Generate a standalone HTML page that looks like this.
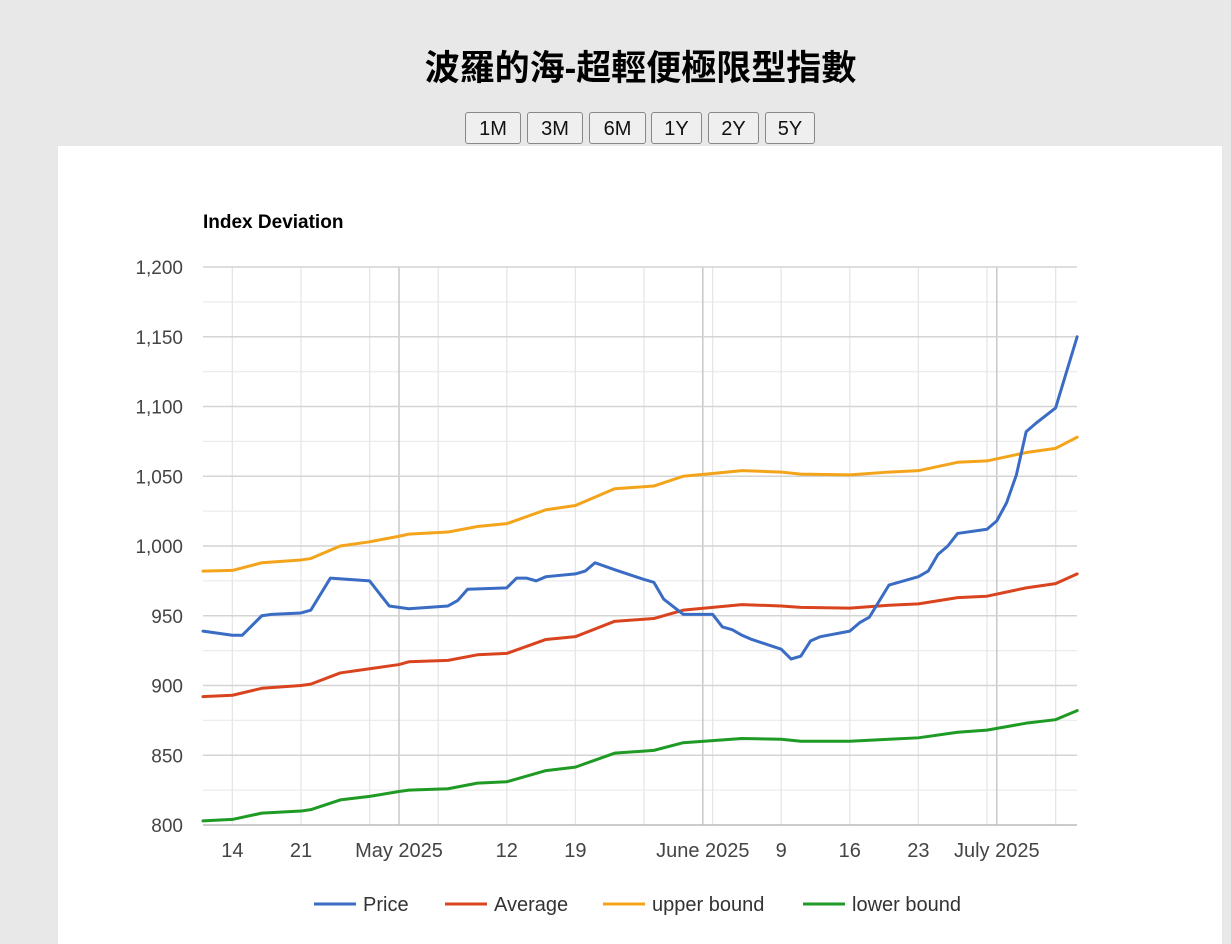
<!DOCTYPE html>
<html><head><meta charset="utf-8"><style>
body{margin:0;width:1231px;height:944px;background:#e8e8e8;overflow:hidden;font-family:"Liberation Sans","Noto Sans CJK TC",sans-serif;position:relative}
#title{position:absolute;left:25px;width:1231px;top:40px;text-align:center;font-size:35px;font-weight:bold;color:#000;font-family:"Liberation Sans","Noto Sans CJK TC",sans-serif}
.btn{position:absolute;top:112px;height:32px;border:1px solid #888;border-radius:3px;background:#efefef;font-size:20px;color:#111;text-align:center;line-height:32px;box-sizing:border-box}
#card{position:absolute;left:58px;top:146px;width:1164px;height:798px;background:#fff}
svg{position:absolute;left:0;top:0}
</style></head><body>
<div id="title">波羅的海-超輕便極限型指數</div>
<div class="btn" style="left:465px;width:56px">1M</div>
<div class="btn" style="left:527px;width:56px">3M</div>
<div class="btn" style="left:589px;width:57px">6M</div>
<div class="btn" style="left:651px;width:51px">1Y</div>
<div class="btn" style="left:708px;width:51px">2Y</div>
<div class="btn" style="left:765px;width:50px">5Y</div>
<div id="card"></div>
<svg id="chart" width="1231" height="944"></svg>
<script>
const yTicks=[800,850,900,950,1000,1050,1100,1150,1200];
const xLabelDays=[3,10,20,31,38,51,59,66,73,81];
const xLabelText=["14","21","May 2025","12","19","June 2025","9","16","23","July 2025"];
const mondayDays=[3,10,17,24,31,38,45,52,59,66,73,80,87];
const monthDays=[20,51,81];
const priceDays=[0,3,4,6,7,10,11,13,17,19,20,21,25,26,27,31,32,33,34,35,38,39,40,42,45,46,47,49,52,53,54,55,56,59,60,61,62,63,66,67,68,70,73,74,75,76,77,80,81,82,83,84,85,87,89.2];
const priceVals=[939,936,936,950,951,952,954,977,975,957,956,955,957,961,969,970,977,977,975,978,980,982,988,983,976,974,962,951,951,942,940,936,933,926,919,921,932,935,939,945,949,972,978,982,994,1000,1009,1012,1018,1031,1051,1082,1088,1099,1150];
const bandDays=[0,3,6,10,11,14,17,20,21,25,28,31,35,38,42,46,49,52,55,59,61,66,70,73,77,80,84,87,89.2];
const upperVals=[982,982.5,988,990,991,1000,1003,1007,1008.5,1010,1014,1016,1026,1029,1041,1043,1050,1052,1054,1053,1051.5,1051,1053,1054,1060,1061,1067,1070,1078];
const averageVals=[892,893,898,900,901,909,912,915,917,918,922,923,933,935,946,948,954,956,958,957,956,955.5,957.5,958.5,963,964,970,973,980];
const lowerVals=[803,804,808.5,810,811,818,820.5,824,825,826,830,831,839,841.5,851.5,853.5,859,860.5,862,861.5,860,860,861.5,862.5,866.5,868,873,875.5,882];

const NS="http://www.w3.org/2000/svg";
const svg=document.getElementById('chart');
const X0=203,X1=1077,Y0=825,Y1=267;
const xs=d=>X0+d*9.8;
const ys=v=>Y0-(v-800)*(Y0-Y1)/400;
function mk(tag,attrs,parent){const e=document.createElementNS(NS,tag);for(const k in attrs)e.setAttribute(k,attrs[k]);(parent||svg).appendChild(e);return e;}

for(let v=825;v<1200;v+=50){
  const l=mk('line',{x1:X0,x2:X1,y1:ys(v),y2:ys(v),stroke:'#ececec','stroke-width':1.3});
  
  
}
mondayDays.forEach(d=>{
  const l=mk('line',{x1:xs(d),x2:xs(d),y1:Y1,y2:Y0,stroke:'#e6e6e6','stroke-width':1.3});
  
  
});
monthDays.forEach(d=>{
  const l=mk('line',{x1:xs(d),x2:xs(d),y1:Y1,y2:Y0,stroke:'#c8c8c8','stroke-width':1.5});
  
  
});
yTicks.forEach(v=>{
  const l=mk('line',{x1:X0,x2:X1,y1:ys(v),y2:ys(v),stroke:v===800?'#bbb':'#d4d4d4','stroke-width':1.5});
  
  
  const t=mk('text',{x:183,y:ys(v)+7,'text-anchor':'end','font-size':19,fill:'#444','font-family':'Liberation Sans, sans-serif'});
  t.textContent=v.toLocaleString('en-US');
  
  
});
xLabelDays.forEach((d,i)=>{
  const t=mk('text',{x:xs(d),y:857,'text-anchor':'middle','font-size':20,fill:'#444','font-family':'Liberation Sans, sans-serif'});
  t.textContent=xLabelText[i];
  
  
});
const ct=mk('text',{x:203,y:228,'font-size':19,'font-weight':'bold',fill:'#000','font-family':'Liberation Sans, sans-serif'});
ct.textContent='Index Deviation';



function series(days,vals,color,name){
  const p=mk('polyline',{points:days.map((d,i)=>xs(d)+','+ys(vals[i])).join(' '),fill:'none',stroke:color,'stroke-width':3,'stroke-linejoin':'round','stroke-linecap':'round'});
  
  
}
series(bandDays,lowerVals,'#1f9a24','lower-bound-line');
series(bandDays,upperVals,'#f4a41b','upper-bound-line');
series(bandDays,averageVals,'#d9441f','average-line');
series(priceDays,priceVals,'#3a6cc4','price-line');

const legend=[["Price","#3a6cc4",314],["Average","#d9441f",445],["upper bound","#f4a41b",603],["lower bound","#1f9a24",803]];
legend.forEach(([txt,c,x])=>{
  const g=mk('g',{});
  
  
  mk('line',{x1:x,x2:x+42,y1:904,y2:904,stroke:c,'stroke-width':3},g);
  const t=mk('text',{x:x+49,y:911,'font-size':20,fill:'#333','font-family':'Liberation Sans, sans-serif'},g);
  t.textContent=txt;
});
</script>
</body></html>
